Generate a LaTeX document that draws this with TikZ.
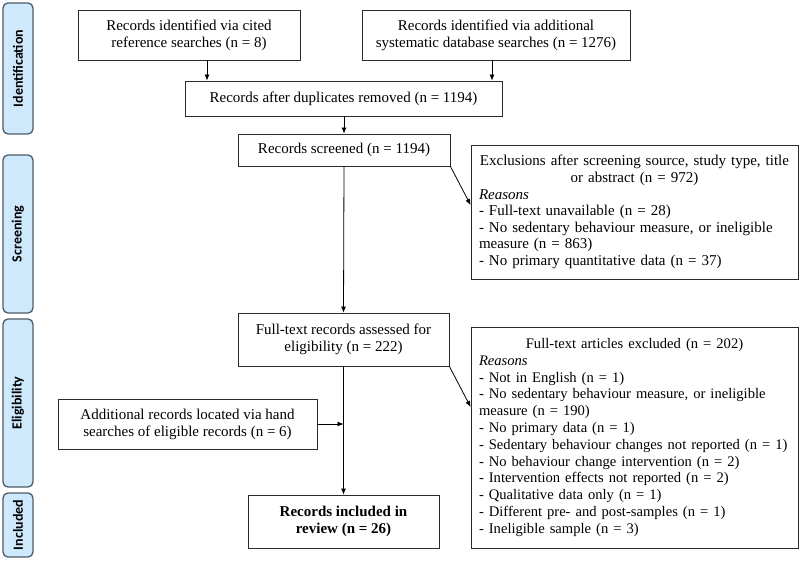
\documentclass[tikz,border=0pt]{standalone}
\usepackage{fontspec}
\setmainfont{Liberation Serif}
\newfontfamily\sidefont{Carlito}
\usetikzlibrary{arrows.meta,calc}
\definecolor{sidefill}{HTML}{CFE9FC}
\definecolor{sideedge}{HTML}{4E5B68}
\definecolor{boxedge}{HTML}{2A2A2A}
\begin{document}
\begin{tikzpicture}[x=1pt,y=-1pt,
  box/.style={draw=boxedge, line width=0.8pt, align=center, inner sep=0pt,
    font=\fontsize{15}{17}\selectfont},
  listbox/.style={draw=boxedge, line width=0.8pt, align=left, inner xsep=4pt, inner ysep=0pt,
    font=\fontsize{15}{16.6}\selectfont},
  side/.style={draw=sideedge, fill=sidefill, line width=1.3pt, rounded corners=5pt,
    rotate=90, minimum height=30pt, inner sep=0pt,
    font=\sidefont\bfseries\fontsize{14}{16}\selectfont},
  arr/.style={draw=black, line width=0.8pt, -{Latex[length=6pt,width=5pt]}}
]
\useasboundingbox (0,0) rectangle (800,569);

% side bars
\node[side, minimum width=131pt] (s1) at (18,68.5) {Identification};
\node[side, minimum width=158pt] (s2) at (18,234) {Screening};
\node[side, minimum width=168pt] (s3) at (18,403) {Eligibility};
\node[side, minimum width=64pt]  (s4) at (18,525) {Included};

% boxes
\node[box, minimum width=222pt, minimum height=50pt] (A) at (189,35)
  {Records identified via cited\\reference searches (n = 8)};
\node[box, minimum width=268pt, minimum height=50pt] (B) at (496,35)
  {Records identified via additional\\systematic database searches (n = 1276)};
\node[box, minimum width=317pt, minimum height=35pt] (C) at (343.5,98.5)
  {Records after duplicates removed (n = 1194)};
\node[box, minimum width=212pt, minimum height=32pt] (D) at (344,150)
  {Records screened (n = 1194)};
\node[listbox, text width=319pt, minimum height=134pt] (E) at (634.5,212)
  {\centering Exclusions after screening source, study type, title\\or abstract (n = 972)\par
   \raggedright\hspace*{4pt}\textit{Reasons}\\
   \hspace*{4pt}- Full-text unavailable (n = 28)\\
   \hspace*{4pt}- No sedentary behaviour measure, or ineligible\\
   \hspace*{4pt}measure (n = 863)\\
   \hspace*{4pt}- No primary quantitative data (n = 37)\par\vspace*{-5pt}};
\node[box, minimum width=211pt, minimum height=53pt] (F) at (343.5,339.5)
  {Full-text records assessed for\\eligibility (n = 222)};
\node[listbox, text width=319pt, minimum height=221pt] (G) at (634.5,437.5)
  {\fontsize{14.6}{16.8}\selectfont
   \centering Full-text articles excluded (n = 202)\par
   \raggedright\hspace*{4pt}\textit{Reasons}\\
   \hspace*{4pt}- Not in English (n = 1)\\
   \hspace*{4pt}- No sedentary behaviour measure, or ineligible\\
   \hspace*{4pt}measure (n = 190)\\
   \hspace*{4pt}- No primary data (n = 1)\\
   \hspace*{4pt}\mbox{- Sedentary behaviour changes not reported (n = 1)}\\
   \hspace*{4pt}- No behaviour change intervention (n = 2)\\
   \hspace*{4pt}- Intervention effects not reported (n = 2)\\
   \hspace*{4pt}- Qualitative data only (n = 1)\\
   \hspace*{4pt}- Different pre- and post-samples (n = 1)\\
   \hspace*{4pt}- Ineligible sample (n = 3)\par\vspace*{10pt}};
\node[box, minimum width=259pt, minimum height=50pt] (H) at (187.5,424)
  {Additional records located via hand\\searches of eligible records (n = 6)};
\node[box, minimum width=191pt, minimum height=53pt, font=\fontsize{15}{17}\selectfont\bfseries] (I) at (343.5,521.5)
  {Records included in\\review (n = 26)};

% connectors
\draw[arr] ([xshift=18pt]A.south) -- ([xshift=18pt]A.south |- C.north);
\draw[arr] ([xshift=-4pt]B.south) -- ([xshift=-4pt]B.south |- C.north);
\draw[arr] (C.south -| D.north) -- (D.north);
\draw[arr] (D.south) -- (F.north);
\draw[arr] (D.south east) -- ([yshift=7pt]E.west);
\draw[arr] (F.south) -- (I.north);
\draw[arr] (F.south east) -- ([yshift=30.5pt]G.west);
\draw[arr] (H.east) -- (H.east -| F.south);
\end{tikzpicture}
\end{document}
